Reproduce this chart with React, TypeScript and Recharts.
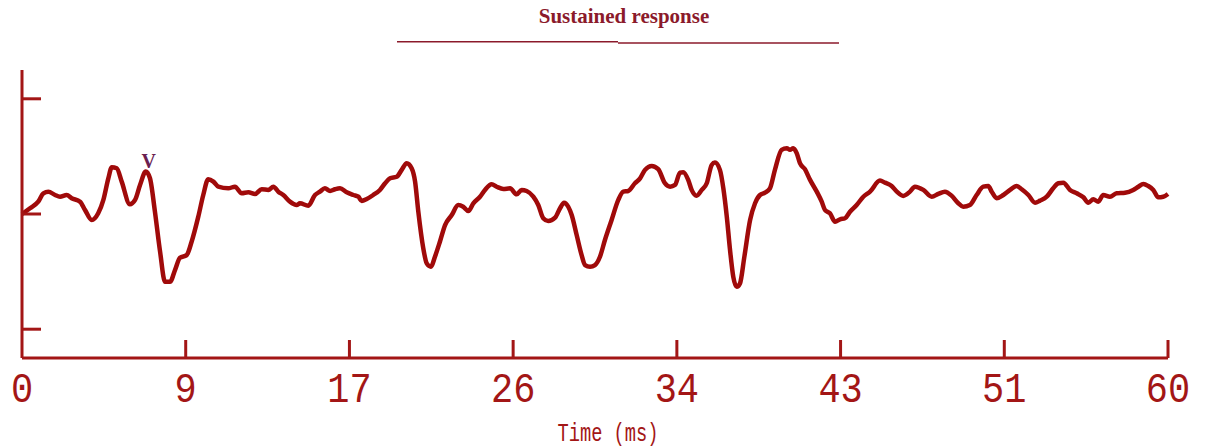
import { LineChart, Line, XAxis, YAxis, ReferenceDot } from "recharts";

document.body.style.margin = "0";

// time in ms, amplitude in arbitrary units (y ticks at -1, 0, 1)
const times = [
  0, 0.42, 0.85, 1.12, 1.38, 1.73, 1.99, 2.34, 2.6, 3.04, 3.3, 3.65, 3.99, 4.26, 4.52, 4.7, 4.96, 5.22, 5.65, 5.92,
  6.18, 6.48, 6.7, 6.96, 7.23, 7.49, 7.75, 8.01, 8.27, 8.62, 8.88, 9.23, 9.49, 9.75, 10.02, 10.28, 10.8, 11.15, 11.5,
  11.85, 12.2, 12.55, 12.9, 13.16, 13.42, 13.68, 14.03, 14.38,
  14.55, 14.99, 15.34, 15.6, 15.86, 16.13, 16.39, 16.65, 17.0, 17.35, 17.61, 17.79, 18.05, 18.39, 18.74, 19.01, 19.27,
  19.62, 19.88, 20.14, 20.4, 20.58, 20.75, 21.01, 21.19, 21.41, 21.62, 21.88, 22.15, 22.5, 22.84, 23.1, 23.37, 23.63,
  23.98, 24.24, 24.59, 24.85, 25.2, 25.55, 25.9, 26.16, 26.42, 26.77, 27.03, 27.29, 27.55, 27.91, 28.17, 28.38, 28.6,
  28.78, 29.04, 29.3, 29.48, 29.74,
  30.0, 30.26, 30.52, 30.87, 31.22, 31.48, 31.74, 32.09, 32.36, 32.62, 32.97, 33.31, 33.66, 33.93, 34.19, 34.45, 34.62,
  34.88, 35.06, 35.32, 35.59, 35.85, 36.11, 36.28, 36.54, 36.72, 36.9, 37.07, 37.24, 37.42, 37.59, 37.82, 38.12, 38.38,
  38.64, 38.9, 39.16, 39.42, 39.77, 40.04, 40.21, 40.38, 40.56, 40.73, 40.99, 41.26, 41.61, 41.87, 42.04, 42.3, 42.57,
  42.83, 43.09, 43.35, 43.7, 44.05,
  44.4, 44.92, 45.18, 45.53, 45.8, 46.14, 46.49, 46.75, 47.19, 47.63, 47.97, 48.32, 48.68, 49.02, 49.28, 49.63, 49.98,
  50.33, 50.59, 50.77, 51.03, 51.38, 51.73, 52.08, 52.34, 52.69, 53.04, 53.3, 53.65, 53.99, 54.26, 54.52, 54.87, 55.22,
  55.57, 55.83, 56.09, 56.35, 56.61, 56.96, 57.31, 57.75, 58.18, 58.45, 58.71, 58.97, 59.23, 59.49, 59.75, 60.0,
];

const amplitude = [
  0, 0.05, 0.107, 0.18, 0.194, 0.165, 0.15, 0.165, 0.137, 0.107, 0.035, -0.052, 0.006, 0.122, 0.31, 0.406, 0.397,
  0.281, 0.084, 0.122, 0.252, 0.368, 0.31, 0.02, -0.328, -0.589, -0.589, -0.487, -0.38, -0.357, -0.241, -0.023, 0.165,
  0.302, 0.281, 0.237, 0.223, 0.237, 0.18, 0.189, 0.174, 0.215, 0.209, 0.237, 0.194, 0.165, 0.107, 0.078,
  0.093, 0.072, 0.165, 0.194, 0.223, 0.2, 0.215, 0.223, 0.189, 0.165, 0.15, 0.113, 0.13, 0.165, 0.209, 0.267, 0.31,
  0.324, 0.383, 0.441, 0.397, 0.281, 0.02, -0.298, -0.429, -0.458, -0.371, -0.241, -0.096, -0.009, 0.078, 0.063, 0.026,
  0.093, 0.15, 0.209, 0.258, 0.237, 0.217, 0.223, 0.171, 0.209, 0.2, 0.15, 0.078, -0.037, -0.061, -0.032, 0.05, 0.098,
  0.063, -0.009, -0.183, -0.357, -0.443, -0.458,
  -0.443, -0.371, -0.226, -0.052, 0.122, 0.194, 0.2, 0.267, 0.31, 0.383, 0.417, 0.389, 0.267, 0.237, 0.252, 0.359,
  0.363, 0.296, 0.209, 0.159, 0.209, 0.267, 0.426, 0.446, 0.383, 0.223, -0.023, -0.313, -0.545, -0.632, -0.603, -0.371,
  -0.052, 0.093, 0.165, 0.185, 0.223, 0.383, 0.557, 0.571, 0.557, 0.571, 0.528, 0.441, 0.389, 0.296, 0.194, 0.107,
  0.035, 0.006, -0.067, -0.046, -0.037, 0.02, 0.078, 0.15,
  0.194, 0.29, 0.272, 0.243, 0.194, 0.157, 0.194, 0.237, 0.209, 0.15, 0.174, 0.194, 0.157, 0.093, 0.063, 0.078, 0.165,
  0.237, 0.243, 0.194, 0.137, 0.165, 0.209, 0.243, 0.215, 0.165, 0.098, 0.116, 0.15, 0.223, 0.267, 0.272, 0.209, 0.18,
  0.145, 0.098, 0.128, 0.107, 0.165, 0.15, 0.18, 0.185, 0.209, 0.237, 0.261, 0.243, 0.209, 0.145, 0.15, 0.174,
];

// 7 equal divisions of 0–60 ms, labelled rounded
const xTicks = [0, 8.571, 17.143, 25.714, 34.286, 42.857, 51.429, 60];
const xTickLabels = ["0", "9", "17", "26", "34", "43", "51", "60"];
const yTicks = [-1, 0, 1];

// wave V peak
const peakV = { t: 6.48, v: 0.368, label: "V" };

const data = times.map((t, i) => ({ t, v: amplitude[i] }));

const RED = "#a00a0a";
const AXIS = "#a31616";

const XTick = ({ x, y, index }: any) => (
  <g>
    {index > 0 && <line x1={x} x2={x} y1={y} y2={y - 18} stroke={AXIS} strokeWidth={3} />}
    <text
      transform={`translate(${x},${y + 44}) scale(0.86,1)`}
      textAnchor="middle"
      fontFamily="'Liberation Mono', monospace"
      fontSize={43}
      fill={AXIS}
    >
      {xTickLabels[index]}
    </text>
  </g>
);

const YTick = ({ x, y }: any) => <line x1={x} x2={x + 19} y1={y} y2={y} stroke={AXIS} strokeWidth={3} />;

const AxisTitle = ({ viewBox }: any) => (
  <text
    transform={`translate(${viewBox.x + viewBox.width / 2 + 13},${viewBox.y + viewBox.height - 7}) scale(0.72,1)`}
    textAnchor="middle"
    fontFamily="'Liberation Mono', monospace"
    fontSize={26}
    fill={AXIS}
  >
    Time (ms)
  </text>
);

const PeakLabel = ({ viewBox }: any) => (
  <text
    x={viewBox.x + 3}
    y={viewBox.y - 4}
    textAnchor="middle"
    fontFamily="'Liberation Serif', serif"
    fontWeight="bold"
    fontSize={20}
    fill="#6b2050"
  >
    {peakV.label}
  </text>
);

export default function App() {
  return (
    <div style={{ position: "relative", width: 1206, height: 448, background: "#fff" }}>
      <LineChart width={1206} height={448} data={data} margin={{ top: 70, right: 38, bottom: 0, left: 20 }}>
        <XAxis
          dataKey="t"
          type="number"
          domain={[0, 60]}
          ticks={xTicks}
          interval={0}
          height={90}
          tickSize={0}
          tickMargin={0}
          tickLine={false}
          axisLine={{ stroke: AXIS, strokeWidth: 3 }}
          tick={<XTick />}
          label={<AxisTitle />}
        />
        <YAxis
          type="number"
          domain={[-1.25, 1.25]}
          ticks={yTicks}
          interval={0}
          width={2}
          tickSize={0}
          tickMargin={0}
          tickLine={false}
          axisLine={{ stroke: AXIS, strokeWidth: 3 }}
          tick={<YTick />}
        />
        <Line
          type="monotone"
          dataKey="v"
          stroke={RED}
          strokeWidth={4.5}
          strokeLinejoin="round"
          dot={false}
          isAnimationActive={false}
        />
        <ReferenceDot x={peakV.t} y={peakV.v} r={0} fill="none" stroke="none" label={<PeakLabel />} />
      </LineChart>
      <svg width={1206} height={60} style={{ position: "absolute", left: 0, top: 0, pointerEvents: "none" }}>
        <text
          x={624}
          y={23}
          textAnchor="middle"
          fontFamily="'Liberation Serif', 'Times New Roman', serif"
          fontWeight="bold"
          fontSize={21}
          fill="#8b1a2b"
        >
          Sustained response
        </text>
        <line x1={397} x2={618} y1={41.7} y2={41.7} stroke="#8b1a2b" strokeWidth={1.5} />
        <line x1={618} x2={839} y1={43} y2={43} stroke="#8b1a2b" strokeWidth={1.5} />
      </svg>
    </div>
  );
}
